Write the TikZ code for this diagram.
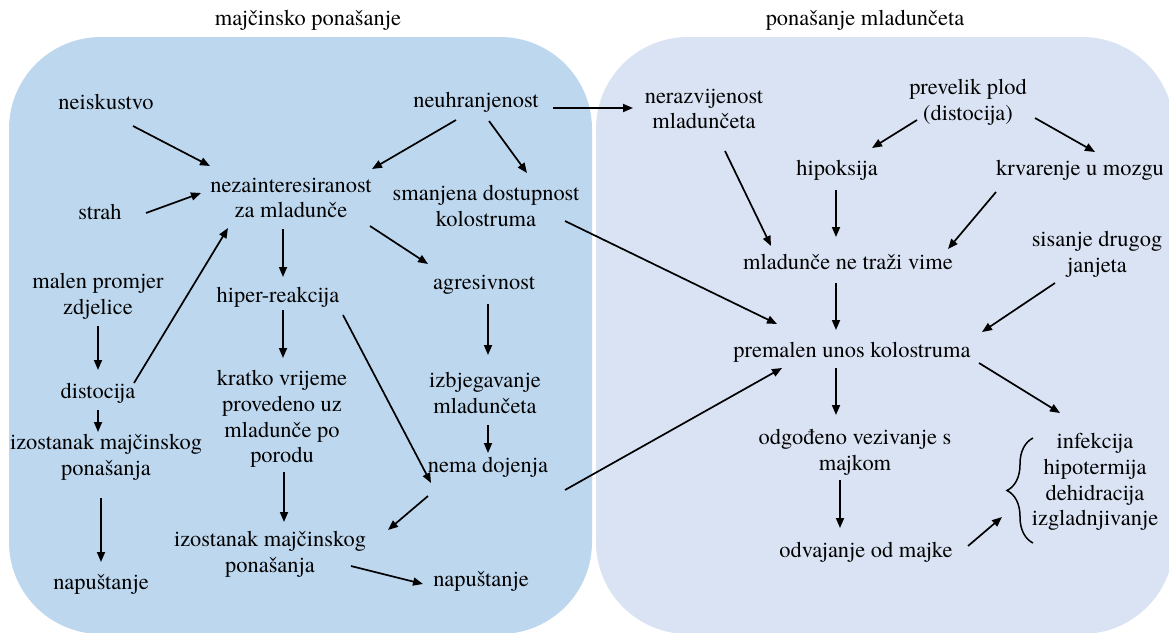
\documentclass[tikz,border=0pt]{standalone}
\usepackage{fontspec}
\setmainfont{TeX Gyre Termes}
\usetikzlibrary{arrows.meta,calc,decorations.pathreplacing}
\definecolor{leftblue}{HTML}{BDD7EE}
\definecolor{rightblue}{HTML}{DAE3F3}
\tikzset{
  lbl/.style={font=\fontsize{22.4}{25.8}\selectfont, align=center, inner sep=0pt},
  arr/.style={line width=1.7pt, -{Triangle[length=10pt,width=8pt]}},
  panel/.style={rounded corners=92pt},
}
\begin{document}
\begin{tikzpicture}[x=1pt,y=-1pt]
\useasboundingbox (0,0) rectangle (1169,632);
\fill[leftblue, panel] (9,37) rectangle (592,634);
\fill[rightblue, panel] (596,37) rectangle (1174,634);

% titles
\node[lbl] (t1) at (308,20) {majčinsko ponašanje};
\node[lbl] (t2) at (865,20) {ponašanje mladunčeta};

% left panel
\node[lbl] (neisk) at (106,102) {neiskustvo};
\node[lbl] (neuhr) at (476,102) {neuhranjenost};
\node[lbl] (nezain) at (291,198) {nezainteresiranost\\za mladunče};
\node[lbl] (strah) at (100,212) {strah};
\node[lbl] (smanj) at (486,206) {smanjena dostupnost\\kolostruma};
\node[lbl] (malen) at (98,296) {malen promjer\\zdjelice};
\node[lbl] (hiper) at (278,297) {hiper-reakcija};
\node[lbl] (agres) at (484,285) {agresivnost};
\node[lbl] (distoc) at (98,393) {distocija};
\node[lbl] (kratko) at (282,419) {kratko vrijeme\\provedeno uz\\mladunče po\\porodu};
\node[lbl] (izbjeg) at (485,393) {izbjegavanje\\mladunčeta};
\node[lbl] (izost1) at (106,457) {izostanak majčinskog\\ponašanja};
\node[lbl] (nema) at (488,467) {nema dojenja};
\node[lbl] (napust1) at (101,584) {napuštanje};
\node[lbl] (izost2) at (270,554) {izostanak majčinskog\\ponašanja};
\node[lbl] (napust2) at (481,581) {napuštanje};

% right panel
\node[lbl] (nerazv) at (704,109) {nerazvijenost\\mladunčeta};
\node[lbl] (prevelik) at (968,102) {prevelik plod\\(distocija)};
\node[lbl] (hipoks) at (837,170) {hipoksija};
\node[lbl] (krvar) at (1080,170) {krvarenje u mozgu};
\node[lbl] (mlad) at (848,262) {mladunče ne traži vime};
\node[lbl] (sisanje) at (1097,254) {sisanje drugog\\janjeta};
\node[lbl] (premalen) at (852,352) {premalen unos kolostruma};
\node[lbl] (odg) at (855,452) {odgođeno vezivanje s\\majkom};
\node[lbl] (odv) at (866,552) {odvajanje od majke};
\node[lbl] (inf) at (1095,482) {infekcija\\hipotermija\\dehidracija\\izgladnjivanje};

% brace
\draw[line width=1.5pt, decorate, decoration={brace, amplitude=26pt}]
  ($(inf)+(-62,61)$) -- ($(inf)+(-62,-44)$);

% connectors, left panel
\draw[arr] ($(neisk)+(27,24)$) -- ($(nezain)+(-81,-32)$);
\draw[arr] ($(neuhr)+(-20,18)$) -- ($(nezain)+(81,-29)$);
\draw[arr] ($(strah)+(46,1)$) -- ($(nezain)+(-90,-5)$);
\draw[arr] ($(neuhr)+(13,19)$) -- ($(smanj)+(41,-33)$);
\draw[arr] ($(neuhr)+(77,6)$) -- ($(nerazv)+(-71,-1)$);
\draw[arr] ($(distoc)+(36,-10)$) -- ($(nezain)+(-63,30)$);
\draw[arr] ($(malen)+(0,30)$) -- ($(distoc)+(0,-23)$);
\draw[arr] ($(distoc)+(0,17)$) -- ($(izost1)+(-8,-25)$);
\draw[arr] ($(izost1)+(-5,41)$) -- ($(napust1)+(0,-22)$);
\draw[arr] ($(nezain)+(-8,31)$) -- ($(hiper)+(5,-20)$);
\draw[arr] ($(nezain)+(79,28)$) -- ($(agres)+(-56,-21)$);
\draw[arr] ($(hiper)+(5,13)$) -- ($(kratko)+(1,-61)$);
\draw[arr] ($(hiper)+(65,18)$) -- ($(nema)+(-57,16)$);
\draw[arr] ($(agres)+(4,19)$) -- ($(izbjeg)+(3,-38)$);
\draw[arr] ($(izbjeg)+(3,32)$) -- ($(nema)+(0,-14)$);
\draw[arr] ($(kratko)+(2,53)$) -- ($(izost2)+(14,-32)$);
\draw[arr] ($(nema)+(-60,29)$) -- ($(izost2)+(118,-24)$);
\draw[arr] ($(izost2)+(81,12)$) -- ($(napust2)+(-58,3)$);

% connectors, across and right panel
\draw[arr] ($(smanj)+(79,15)$) -- ($(premalen)+(-75,-28)$);
\draw[arr] ($(nema)+(77,23)$) -- ($(premalen)+(-70,16)$);
\draw[arr] ($(nerazv)+(21,42)$) -- ($(mlad)+(-77,-16)$);
\draw[arr] ($(prevelik)+(-51,18)$) -- ($(hipoks)+(35,-22)$);
\draw[arr] ($(prevelik)+(67,16)$) -- ($(krvar)+(15,-18)$);
\draw[arr] ($(hipoks)+(-1,20)$) -- ($(mlad)+(-12,-25)$);
\draw[arr] ($(krvar)+(-84,22)$) -- ($(mlad)+(100,-13)$);
\draw[arr] ($(sisanje)+(-42,29)$) -- ($(premalen)+(130,-20)$);
\draw[arr] ($(mlad)+(-12,21)$) -- ($(premalen)+(-16,-22)$);
\draw[arr] ($(premalen)+(-16,16)$) -- ($(odg)+(-19,-37)$);
\draw[arr] ($(premalen)+(127,11)$) -- ($(inf)+(-35,-69)$);
\draw[arr] ($(odg)+(-15,28)$) -- ($(odv)+(-26,-24)$);
\draw[arr] ($(odv)+(102,-6)$) -- ($(inf)+(-93,35)$);
\end{tikzpicture}
\end{document}
